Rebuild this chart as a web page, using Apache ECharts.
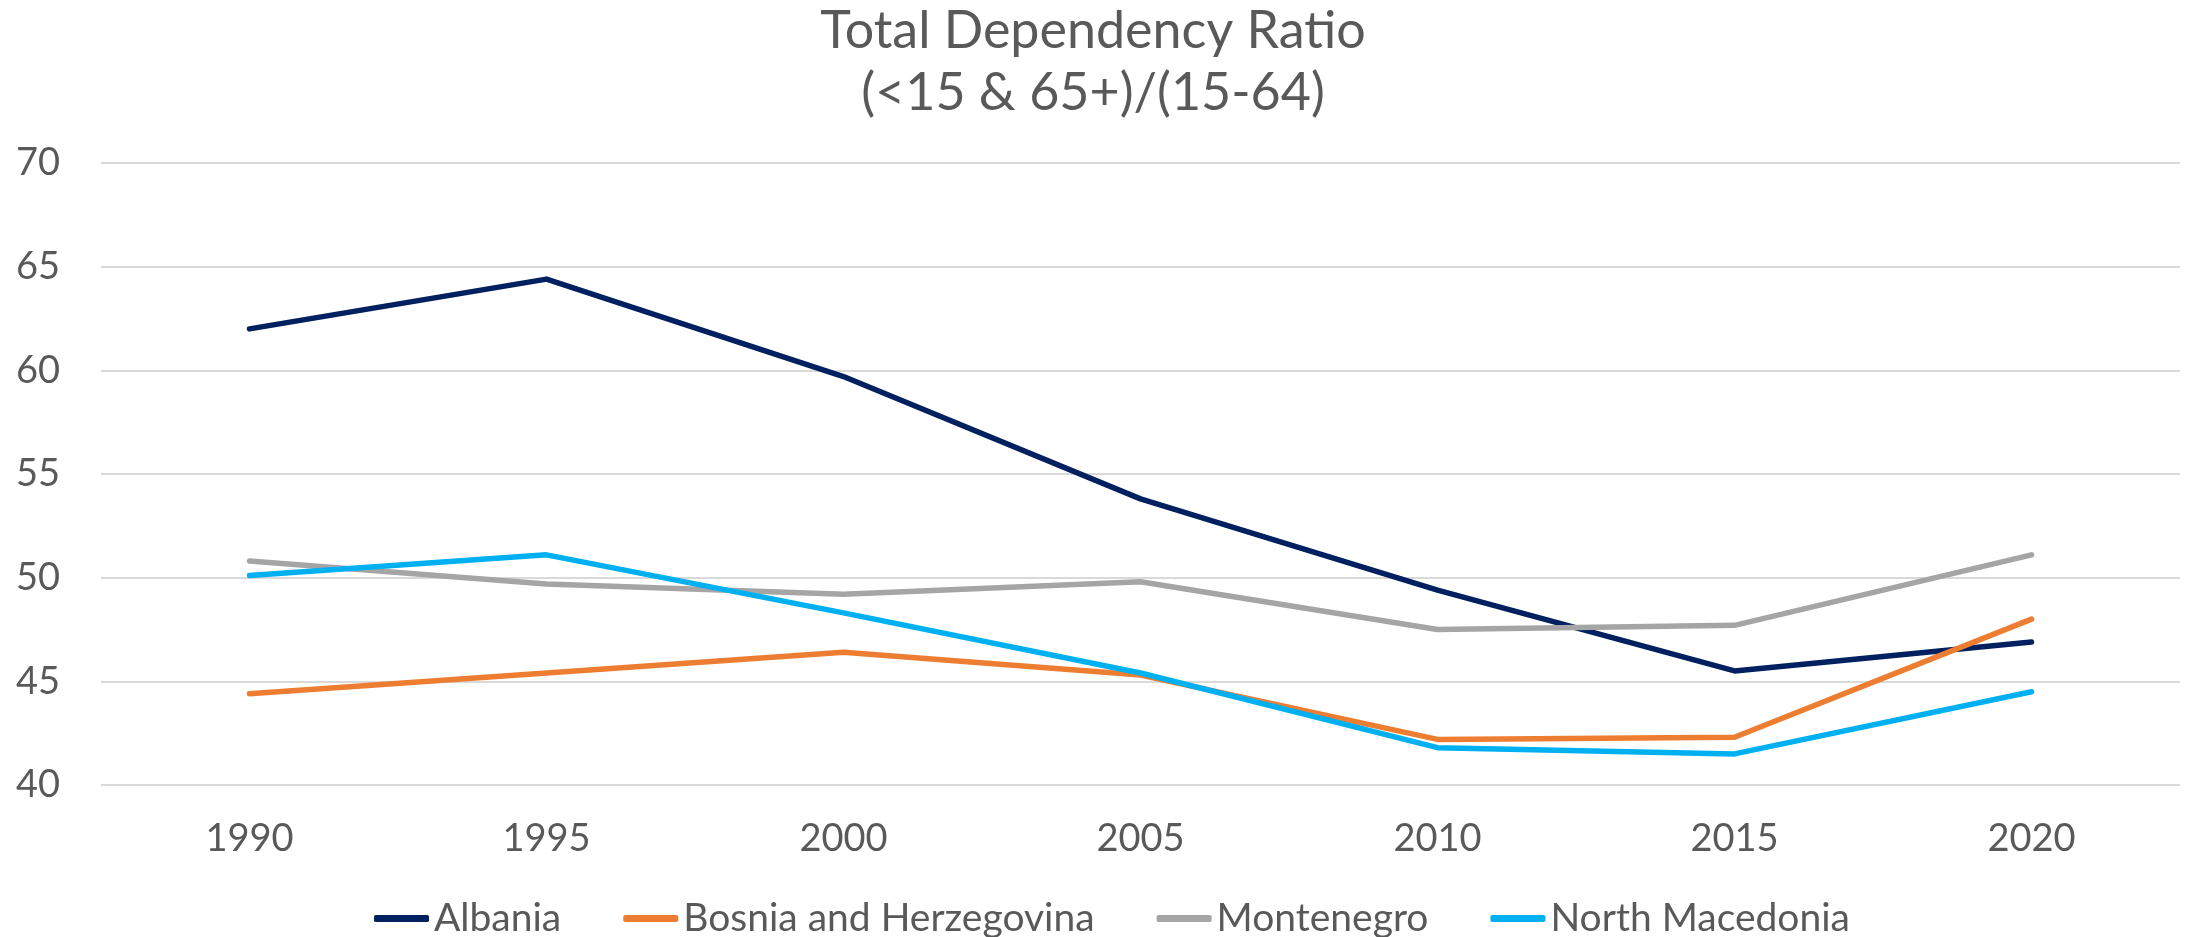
<!DOCTYPE html>
<html>
<head>
<meta charset="utf-8">
<script src="https://cdn.jsdelivr.net/npm/echarts@6/dist/echarts.min.js"></script>
<style>
  html, body { margin: 0; padding: 0; background: #fff; }
  #chart { width: 2186px; height: 937px; }
</style>
</head>
<body>
<div id="chart"></div>
<script>
const years = ['1990', '1995', '2000', '2005', '2010', '2015', '2020']
const albania = [62.0, 64.4, 59.7, 53.8, 49.4, 45.5, 46.9]
const bosnia = [44.4, 45.4, 46.4, 45.3, 42.2, 42.3, 48.0]
const montenegro = [50.8, 49.7, 49.2, 49.8, 47.5, 47.7, 51.1]
const northMacedonia = [50.1, 51.1, 48.3, 45.4, 41.8, 41.5, 44.5]

const FONT = 'Lato'
const TEXT = '#595959'

function lineSeries(name, data, color) {
  return {
    name,
    type: 'line',
    data,
    symbol: 'none',
    smooth: false,
    lineStyle: { width: 5.5, color, cap: 'round', join: 'round' },
    itemStyle: { color },
  }
}

const chart = echarts.init(document.getElementById('chart'))
chart.setOption({
  animation: false,
  textStyle: { fontFamily: FONT },
  title: {
    text: 'Total Dependency Ratio\n(<15 & 65+)/(15-64)',
    left: 'center',
    top: -5,
    textStyle: { color: TEXT, fontSize: 52, fontWeight: 'normal', fontFamily: FONT, lineHeight: 62 },
  },
  legend: {
    left: 369,
    top: 894,
    icon: 'roundRect',
    itemWidth: 55,
    itemHeight: 7,
    itemGap: 62,
    textStyle: { color: TEXT, fontSize: 39, fontFamily: FONT },
  },
  grid: { left: 101, right: 6, top: 163, bottom: 152 },
  xAxis: {
    type: 'category',
    data: years,
    boundaryGap: true,
    axisLine: { show: false },
    axisTick: { show: false },
    axisLabel: { color: TEXT, fontSize: 38, fontFamily: FONT, margin: 35 },
  },
  yAxis: {
    type: 'value',
    min: 40,
    max: 70,
    interval: 5,
    axisLine: { show: false },
    axisTick: { show: false },
    axisLabel: { color: TEXT, fontSize: 38, fontFamily: FONT, margin: 41 },
    splitLine: { lineStyle: { color: '#d9d9d9', width: 2 } },
  },
  series: [
    lineSeries('Albania', albania, '#002060'),
    lineSeries('Bosnia and Herzegovina', bosnia, '#ED7D31'),
    lineSeries('Montenegro', montenegro, '#A5A5A5'),
    lineSeries('North Macedonia', northMacedonia, '#00B0F0'),
  ],
})
</script>
</body>
</html>
